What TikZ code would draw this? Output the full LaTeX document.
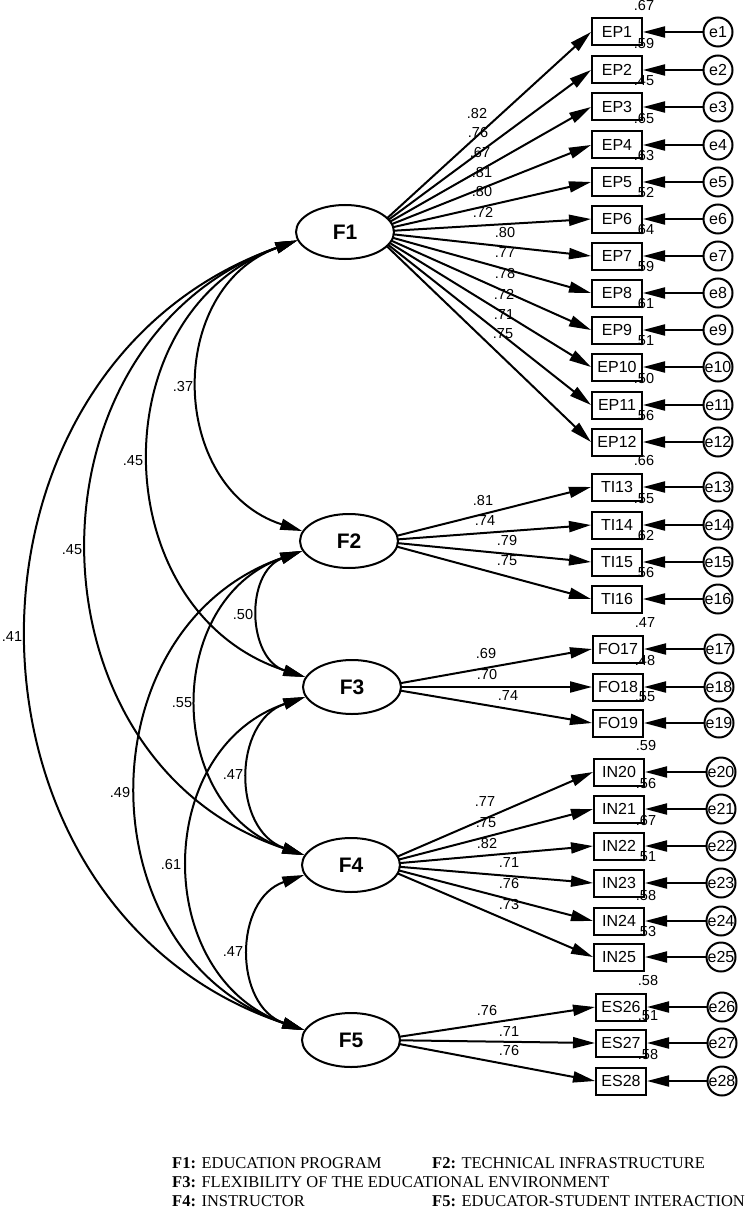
\documentclass[tikz,border=0pt]{standalone}
\usepackage{fontspec}
\setmainfont{Liberation Serif}
\newfontfamily\amosfont{Liberation Sans}
\usetikzlibrary{arrows.meta,shapes.geometric}

\tikzset{
  latent/.style={draw,ellipse,line width=2pt,minimum width=98pt,minimum height=54pt,inner sep=0pt,font=\amosfont\bfseries\fontsize{21}{21}\selectfont},
  obs/.style={draw,rectangle,line width=2pt,minimum width=50pt,minimum height=27pt,inner sep=0pt,font=\amosfont\fontsize{16}{16}\selectfont},
  err/.style={draw,circle,line width=2pt,minimum size=29pt,inner sep=0pt,font=\amosfont\fontsize{16}{16}\selectfont},
  est/.style={inner sep=0pt,font=\amosfont\fontsize{14.5}{14.5}\selectfont},
  reg/.style={line width=2pt,-{Triangle[length=22pt,width=11pt]}},
  cov/.style={line width=2pt,{Triangle[length=22pt,width=11pt]}-{Triangle[length=22pt,width=11pt]},bend right=71,looseness=1.24},
  lgd/.style={anchor=base west,inner sep=0pt,font=\fontsize{16.5}{16.5}\selectfont}
}

\begin{document}
\begin{tikzpicture}[x=1pt,y=1pt]
\useasboundingbox (0,0) rectangle (744,-1209);

% factors
\node[latent] (F1) at (345,-232) {F1};
\node[latent] (F2) at (349,-541) {F2};
\node[latent] (F3) at (352,-687) {F3};
\node[latent] (F4) at (351,-865) {F4};
\node[latent] (F5) at (351,-1040) {F5};
\foreach \f in {1,...,5}
  \coordinate (o\f) at ([xshift=27pt]F\f.center);

% F1 -> EP
\foreach \i/\y/\rsq/\ld/\lx/\ly in {1/32/.67/.82/477/114, 2/70/.59/.76/478/133, 3/107/.45/.67/480/153,
    4/145/.65/.81/482/173, 5/182/.63/.80/482/192, 6/219/.52/.72/483/212, 7/256/.64/.80/505/233,
    8/293/.59/.77/505/253, 9/330/.61/.78/505/274, 10/367/.51/.72/504/294, 11/405/.50/.71/504/315,
    12/442/.56/.75/503/334}{
  \node[obs] (EP\i) at (617,-\y) {EP\i};
  \node[err] (e\i) at (718,-\y) {e\i};
  \draw[reg] (e\i) -- (EP\i);
  \draw[reg,shorten <=21pt] (o1) -- (EP\i.west);
  \node[est] at (644,-\y+26) {\rsq};
  \node[est] at (\lx,-\ly) {\ld};
}

% F2 -> TI
\foreach \i/\y/\rsq/\ld/\lx/\ly in {13/487/.66/.81/483/501, 14/525/.55/.74/485/521,
    15/562/.62/.79/507/541, 16/599/.56/.75/507/561}{
  \node[obs] (TI\i) at (617,-\y) {TI\i};
  \node[err] (e\i) at (718,-\y) {e\i};
  \draw[reg] (e\i) -- (TI\i);
  \draw[reg,shorten <=21pt] (o2) -- (TI\i.west);
  \node[est] at (644,-\y+26) {\rsq};
  \node[est] at (\lx,-\ly) {\ld};
}

% F3 -> FO
\foreach \i/\y/\rsq/\ld/\lx/\ly in {17/649/.47/.69/486/654, 18/687/.48/.70/487/675,
    19/723/.55/.74/508/696}{
  \node[obs] (FO\i) at (618,-\y) {FO\i};
  \node[err] (e\i) at (719,-\y) {e\i};
  \draw[reg] (e\i) -- (FO\i);
  \draw[reg,shorten <=21pt] (o3) -- (FO\i.west);
  \node[est] at (645,-\y+26) {\rsq};
  \node[est] at (\lx,-\ly) {\ld};
}

% F4 -> IN
\foreach \i/\y/\rsq/\ld/\lx/\ly in {20/772/.59/.77/485/802, 21/809/.56/.75/486/823,
    22/846/.67/.82/487/843, 23/883/.51/.71/509/863, 24/921/.58/.76/509/883,
    25/957/.53/.73/509/904}{
  \node[obs] (IN\i) at (619,-\y) {IN\i};
  \node[err] (e\i) at (721,-\y) {e\i};
  \draw[reg] (e\i) -- (IN\i);
  \draw[reg,shorten <=21pt] (o4) -- (IN\i.west);
  \node[est] at (646,-\y+26) {\rsq};
  \node[est] at (\lx,-\ly) {\ld};
}

% F5 -> ES
\foreach \i/\y/\rsq/\ld/\lx/\ly in {26/1007/.58/.76/487/1010, 27/1043/.51/.71/509/1031,
    28/1081/.58/.76/509/1050}{
  \node[obs] (ES\i) at (621,-\y) {ES\i};
  \node[err] (e\i) at (722,-\y) {e\i};
  \draw[reg] (e\i) -- (ES\i);
  \draw[reg,shorten <=21pt] (o5) -- (ES\i.west);
  \node[est] at (648,-\y+27) {\rsq};
  \node[est] at (\lx,-\ly) {\ld};
}

% covariances
\draw[cov] (F1.190) to (F2.168);
\draw[cov] (F1.190) to (F3.168);
\draw[cov] (F1.190) to (F4.168);
\draw[cov] (F1.190) to (F5.168);
\draw[cov] (F2.192) to (F3.168);
\draw[cov] (F2.192) to (F4.168);
\draw[cov] (F2.192) to (F5.168);
\draw[cov] (F3.192) to (F4.168);
\draw[cov] (F3.192) to (F5.168);
\draw[cov] (F4.192) to (F5.168);
\node[est] at (183,-387) {.37};
\node[est] at (133,-461) {.45};
\node[est] at (72,-550) {.45};
\node[est] at (12,-637) {.41};
\node[est] at (243,-615) {.50};
\node[est] at (182,-703) {.55};
\node[est] at (120,-792) {.49};
\node[est] at (233,-775) {.47};
\node[est] at (171,-864) {.61};
\node[est] at (233,-952) {.47};

% legend
\node[lgd] (k1) at (172,-1168) {\textbf{F1:} EDUCATION PROGRAM};
\node[lgd] (k2) at (432,-1168) {\textbf{F2:} TECHNICAL INFRASTRUCTURE};
\node[lgd] (k3) at (172,-1187) {\textbf{F3:} FLEXIBILITY OF THE EDUCATIONAL ENVIRONMENT};
\node[lgd] (k4) at (172,-1206) {\textbf{F4:} INSTRUCTOR};
\node[lgd] (k5) at (432,-1206) {\textbf{F5:} EDUCATOR-STUDENT INTERACTION};
\end{tikzpicture}
\end{document}
